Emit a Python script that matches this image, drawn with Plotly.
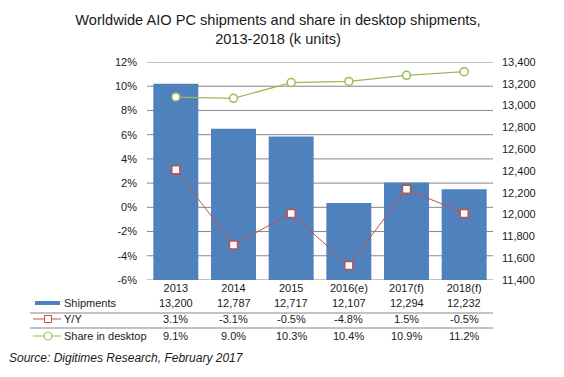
import plotly.graph_objects as go

categories = ["2013", "2014", "2015", "2016(e)", "2017(f)", "2018(f)"]
shipments = [13200, 12787, 12717, 12107, 12294, 12232]
yoy = [3.1, -3.1, -0.5, -4.8, 1.5, -0.5]
share = [9.1, 9.0, 10.3, 10.4, 10.9, 11.2]
ship_labels = ["13,200", "12,787", "12,717", "12,107", "12,294", "12,232"]
yoy_labels = ["3.1%", "-3.1%", "-0.5%", "-4.8%", "1.5%", "-0.5%"]
share_labels = ["9.1%", "9.0%", "10.3%", "10.4%", "10.9%", "11.2%"]
right_ticks = [11400, 11600, 11800, 12000, 12200, 12400, 12600, 12800, 13000, 13200, 13400]
left_ticks = [-6, -4, -2, 0, 2, 4, 6, 8, 10, 12]

BLUE = "#4F81BD"
RED = "#C0504D"
GREEN = "#9BBB59"
GRID = "#868686"
TXT = "#1a1a1a"
FONT = "Arial, Liberation Sans, sans-serif"

# page offset of the default html body margin
OFF = 8
PAGE_W, PAGE_H = 564, 377
W, H = PAGE_W - OFF, PAGE_H - OFF
# plot area on the page: x 147..493, y 62..280
L = 147 - OFF
R = W - (493 - OFF)
T = 62 - OFF
B = H - (280 - OFF)
PW, PH = W - L - R, H - T - B

def px_x(x):  # page pixel -> paper
    return (x - OFF - L) / PW

def px_y(y):
    return (H - B - (y - OFF)) / PH

fig = go.Figure()
fig.add_trace(go.Bar(x=categories, y=shipments, marker_color=BLUE, width=0.78,
                     yaxis="y", showlegend=False))
fig.add_trace(go.Scatter(x=categories, y=yoy, yaxis="y2", mode="lines+markers",
                         line=dict(color=RED, width=1),
                         marker=dict(symbol="square", size=8, color="white",
                                     line=dict(color=RED, width=1.5)),
                         showlegend=False))
fig.add_trace(go.Scatter(x=categories, y=share, yaxis="y2", mode="lines+markers",
                         line=dict(color=GREEN, width=1.25),
                         marker=dict(symbol="circle", size=8, color="white",
                                     line=dict(color=GREEN, width=1.5)),
                         showlegend=False))

annotations = []
rows = [(ship_labels, 303), (yoy_labels, 319), (share_labels, 336)]
for labels, ypix in rows:
    for i, t in enumerate(labels):
        annotations.append(dict(x=i, xref="x", y=px_y(ypix), yref="paper",
                                text=t, showarrow=False, xanchor="center", yanchor="middle",
                                font=dict(family=FONT, size=11, color=TXT)))

legend_names = ["Shipments", "Y/Y", "Share in desktop"]
for name, (_, ypix) in zip(legend_names, rows):
    annotations.append(dict(x=px_x(62), xref="paper", y=px_y(ypix), yref="paper",
                            text=name, showarrow=False, xanchor="left", yanchor="middle",
                            font=dict(family=FONT, size=11, color=TXT)))

annotations.append(dict(x=px_x(7), xref="paper", y=px_y(358), yref="paper",
                        text="<i>Source: Digitimes Research, February 2017</i>",
                        showarrow=False, xanchor="left", yanchor="middle",
                        font=dict(family=FONT, size=12, color=TXT)))

shapes = []
# horizontal gridlines at the left-axis tick values
for v in left_ticks:
    shapes.append(dict(type="line", xref="paper", yref="y2", layer="below",
                       x0=0, x1=1, y0=v, y1=v, line=dict(color=GRID, width=1)))
for ypix in (313, 328):
    shapes.append(dict(type="line", xref="paper", yref="paper",
                       x0=px_x(30), x1=1, y0=px_y(ypix), y1=px_y(ypix),
                       line=dict(color=GRID, width=1)))
# legend keys
shapes.append(dict(type="rect", xref="paper", yref="paper",
                   x0=px_x(35), x1=px_x(60), y0=px_y(305), y1=px_y(301),
                   fillcolor=BLUE, line=dict(width=0)))
shapes.append(dict(type="line", xref="paper", yref="paper",
                   x0=px_x(33), x1=px_x(61), y0=px_y(319), y1=px_y(319),
                   line=dict(color=RED, width=1)))
shapes.append(dict(type="rect", xref="paper", yref="paper",
                   x0=px_x(44.5), x1=px_x(51.5), y0=px_y(322.5), y1=px_y(315.5),
                   fillcolor="white", line=dict(color=RED, width=1)))
shapes.append(dict(type="line", xref="paper", yref="paper",
                   x0=px_x(33), x1=px_x(61), y0=px_y(336), y1=px_y(336),
                   line=dict(color=GREEN, width=1)))
shapes.append(dict(type="circle", xref="paper", yref="paper",
                   x0=px_x(44), x1=px_x(52), y0=px_y(340), y1=px_y(332),
                   fillcolor="white", line=dict(color=GREEN, width=1)))

fig.update_layout(
    template="none",
    width=W, height=H,
    margin=dict(l=L, r=R, t=T, b=B, pad=0, autoexpand=False),
    paper_bgcolor="white", plot_bgcolor="white",
    font=dict(family=FONT, size=11, color=TXT),
    title=dict(text="Worldwide AIO PC shipments and share in desktop shipments,<br>2013-2018 (k units)",
               x=(278 - OFF) / W, xref="container", xanchor="center",
               y=1 - 17 / H, yref="container", yanchor="top",
               font=dict(family=FONT, size=14.6, color=TXT)),
    xaxis=dict(type="category", showgrid=False, showline=False, ticks="",
               zeroline=False, automargin=False,
               tickfont=dict(size=11, color=TXT), range=[-0.5, 5.5]),
    yaxis=dict(side="right", range=[11400, 13400], tickvals=right_ticks,
               tickformat=",", showgrid=False,
               zeroline=False, showline=False, ticks="", automargin=False,
               ticklabelstandoff=8,
               tickfont=dict(size=11, color=TXT)),
    yaxis2=dict(side="left", overlaying="y", range=[-6, 12], tickvals=left_ticks,
                ticktext=[f"{v}%" for v in left_ticks],
                showgrid=False,
                zeroline=False, showline=False,
                ticks="", automargin=False, ticklabelstandoff=9,
                tickfont=dict(size=11, color=TXT)),
    annotations=annotations,
    shapes=shapes,
)

fig.write_html("out.html")
